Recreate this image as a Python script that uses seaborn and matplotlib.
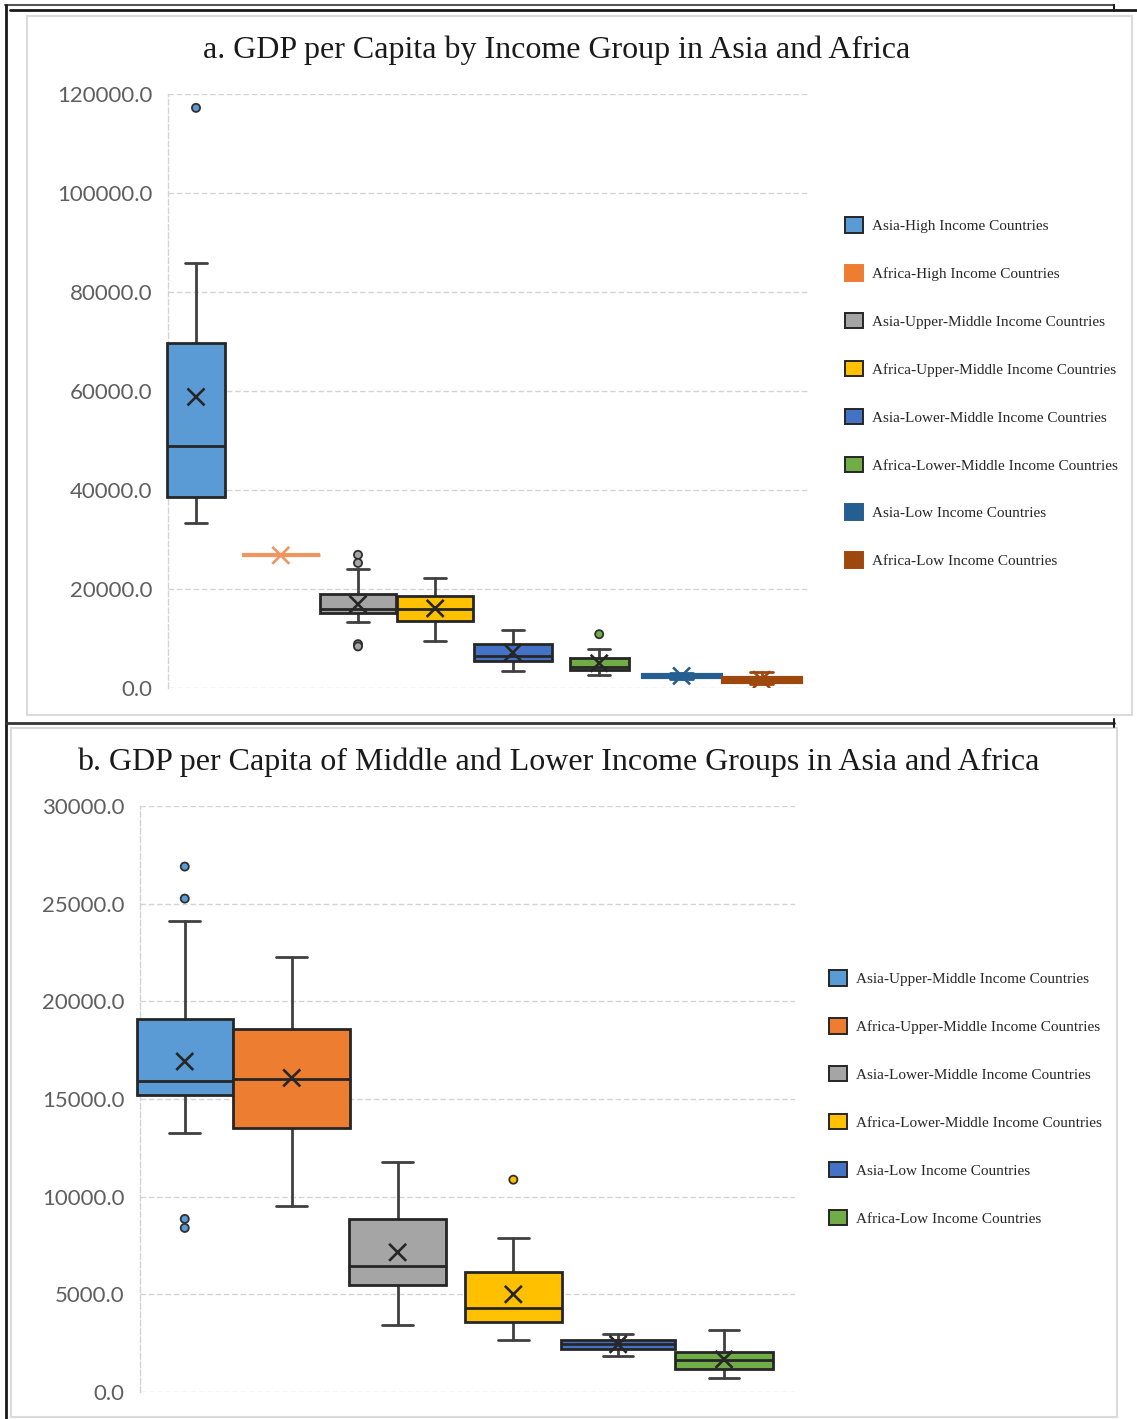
import numpy as np
import pandas as pd
import matplotlib
matplotlib.use("Agg")
import matplotlib.pyplot as plt
from matplotlib.patches import Patch, Rectangle
from matplotlib.lines import Line2D
from matplotlib.ticker import MultipleLocator, FuncFormatter
import seaborn as sns

# ---- data: GDP per capita summary per income group (USD) ----
groups = [
    "Asia-High Income Countries",
    "Africa-High Income Countries",
    "Asia-Upper-Middle Income Countries",
    "Africa-Upper-Middle Income Countries",
    "Asia-Lower-Middle Income Countries",
    "Africa-Lower-Middle Income Countries",
    "Asia-Low Income Countries",
    "Africa-Low Income Countries",
]
whisker_low = [33300, 26800, 13250, 9510, 3450, 2660, 1840, 720]
q1 = [38600, 26800, 15190, 13530, 5500, 3580, 2220, 1190]
median = [48900, 26800, 15900, 16010, 6440, 4300, 2440, 1640]
mean = [58800, 26800, 16920, 16080, 7150, 5000, 2440, 1670]
q3 = [69600, 26800, 19070, 18560, 8860, 6140, 2660, 2070]
whisker_high = [85900, 26800, 24090, 22260, 11790, 7880, 2970, 3170]

outlier_group = [
    "Asia-High Income Countries",
    "Asia-Upper-Middle Income Countries",
    "Asia-Upper-Middle Income Countries",
    "Asia-Upper-Middle Income Countries",
    "Asia-Upper-Middle Income Countries",
    "Africa-Lower-Middle Income Countries",
]
outlier_value = [117200, 26900, 25260, 8860, 8400, 10870]

# panel b shows the middle and lower groups relabelled one step down
labels_b = [
    "Asia-Upper-Middle Income Countries",
    "Africa-Upper-Middle Income Countries",
    "Asia-Lower-Middle Income Countries",
    "Africa-Lower-Middle Income Countries",
    "Asia-Low Income Countries",
    "Africa-Low Income Countries",
]

title_a = "a. GDP per Capita by Income Group in Asia and Africa"
title_b = "b. GDP per Capita of Middle and Lower Income Groups in Asia and Africa"

# ---- styling ----
sns.set_theme(style="white")
plt.rcParams["font.family"] = ["Lato", "DejaVu Sans"]

W, H = 1137, 1419
fig = plt.figure(figsize=(W / 100, H / 100), dpi=100)
fig.patch.set_facecolor("white")


def fx(px):
    return px / W


def fy(py):
    return 1 - py / H


EDGE = "#262626"
WHISK = "#404040"
GRID = "#D4D4D4"

colors_a = ["#5B9BD5", "#ED7D31", "#A5A5A5", "#FFC000",
            "#4472C4", "#70AD47", "#255E91", "#9E480E"]
line_a = ["#5B9BD5", "#EE9560", "#A5A5A5", "#FFC000",
          "#4472C4", "#70AD47", "#255E91", "#9E480E"]
flat_a = [False, True, False, False, False, False, True, True]
colors_b = ["#5B9BD5", "#ED7D31", "#A5A5A5", "#FFC000", "#4472C4", "#70AD47"]


def draw_panel(ax, idx, names, fills, lines, flat, centers, widths, ymax, step):
    stats = []
    for i, name in zip(idx, names):
        stats.append(dict(med=median[i], q1=q1[i], q3=q3[i],
                          whislo=whisker_low[i], whishi=whisker_high[i],
                          fliers=[], label=name))
    n = len(stats)
    art = ax.bxp(stats, positions=centers, widths=widths,
                 capwidths=[0.28] * n, patch_artist=True,
                 showfliers=False, manage_ticks=False)
    for k in range(n):
        fc = fills[k]
        ec = lines[k] if flat[k] else EDGE
        wc = lines[k] if flat[k] else WHISK
        box = art["boxes"][k]
        box.set_facecolor(fc)
        box.set_edgecolor(ec)
        box.set_linewidth(3.0 if flat[k] else 2.0)
        box.set_zorder(3)
        box.set_clip_on(False)
        for ln in art["whiskers"][2 * k:2 * k + 2] + art["caps"][2 * k:2 * k + 2]:
            ln.set_color(wc)
            ln.set_linewidth(2.0)
            ln.set_zorder(2)
        med = art["medians"][k]
        med.set_color(ec)
        med.set_linewidth(2.0)
        med.set_zorder(4)
        med.set_clip_on(False)

    # means drawn as crosses
    mean_df = pd.DataFrame({
        "group": names,
        "pos": centers,
        "mean": [mean[i] for i in idx],
    })
    mean_pal = {nm: (lines[k] if flat[k] else EDGE) for k, nm in enumerate(names)}
    sns.scatterplot(data=mean_df, x="pos", y="mean", hue="group",
                    palette=mean_pal, marker="x", s=150, linewidth=1.9,
                    legend=False, ax=ax, zorder=6)

    # outliers as small filled circles
    rows = []
    for g, v in zip(outlier_group, outlier_value):
        gi = groups.index(g)
        if gi in idx:
            k = idx.index(gi)
            rows.append({"group": names[k], "pos": centers[k], "value": v})
    if rows:
        out_df = pd.DataFrame(rows)
        out_pal = {nm: fills[k] for k, nm in enumerate(names)}
        sns.scatterplot(data=out_df, x="pos", y="value", hue="group",
                        palette=out_pal, s=34, edgecolor="#303030",
                        linewidth=1.3, legend=False, ax=ax, zorder=6)

    ax.set_xlim(0, len(idx))
    ax.set_ylim(0, ymax)
    ax.yaxis.set_major_locator(MultipleLocator(step))
    ax.yaxis.set_major_formatter(FuncFormatter(lambda v, p: f"{v:.1f}"))
    ax.set_xticks([])
    ax.set_xlabel("")
    ax.set_ylabel("")
    ax.grid(axis="y", color=GRID, lw=1.0, ls=(0, (4, 2)))
    ax.set_axisbelow(True)
    ax.tick_params(axis="y", length=0, pad=11, labelsize=16, labelcolor="#5F5F5F")
    for s in ["top", "right", "bottom"]:
        ax.spines[s].set_visible(False)
    ax.spines["left"].set_color(GRID)
    ax.spines["left"].set_linewidth(1.0)
    ax.spines["left"].set_linestyle((0, (4, 2)))
    ax.set_facecolor("none")


# ---- panel a ----
ax_a = fig.add_axes([fx(168), fy(688), 640 / W, 594 / H])
centers_a = [0.35, 1.41, 2.375, 3.34, 4.31, 5.39, 6.42, 7.42]
widths_a = [0.72, 0.975, 0.96, 0.95, 0.97, 0.74, 0.975, 0.975]
draw_panel(ax_a, list(range(8)), groups, colors_a, line_a, flat_a,
           centers_a, widths_a, 120000, 20000)

# ---- panel b ----
ax_b = fig.add_axes([fx(140), fy(1392), 655 / W, 586 / H])
centers_b = [0.41, 1.39, 2.36, 3.42, 4.38, 5.35]
widths_b = [0.88, 1.07, 0.89, 0.89, 1.05, 0.89]
draw_panel(ax_b, list(range(2, 8)), labels_b, colors_b, colors_b,
           [False] * 6, centers_b, widths_b, 30000, 5000)

# ---- titles ----
serif = ["Liberation Serif", "DejaVu Serif"]
fig.text(fx(557), fy(50), title_a, ha="center", va="center",
         fontsize=23, family=serif, color="#1a1a1a")
fig.text(fx(558), fy(762), title_b, ha="center", va="center",
         fontsize=23, family=serif, color="#1a1a1a")

# ---- legends ----
leg_kw = dict(loc="upper left", frameon=False, borderpad=0, borderaxespad=0,
              handlelength=1.2, handleheight=1.2, handletextpad=0.55,
              labelspacing=2.09, prop={"family": serif, "size": 11},
              bbox_transform=fig.transFigure)
bordered_a = [True, False, True, True, True, True, False, False]
handles_a = [Patch(facecolor=c, edgecolor=(EDGE if b else c), lw=1.4, label=g)
             for c, b, g in zip(colors_a, bordered_a, groups)]
fig.legend(handles=handles_a, bbox_to_anchor=(fx(845), fy(217)), **leg_kw)
handles_b = [Patch(facecolor=c, edgecolor=EDGE, lw=1.4, label=g)
             for c, g in zip(colors_b, labels_b)]
fig.legend(handles=handles_b, bbox_to_anchor=(fx(829), fy(970)), **leg_kw)

# ---- chart-area frames and page rules ----
fig.add_artist(Rectangle((fx(27), fy(715)), 1105 / W, 699 / H, fill=False,
                         edgecolor="#DADADA", lw=1.5, transform=fig.transFigure))
fig.add_artist(Rectangle((fx(11), fy(1417)), 1106 / W, 689 / H, fill=False,
                         edgecolor="#DADADA", lw=1.5, transform=fig.transFigure))


def rule(x0, y0, x1, y1, lw=2.0, color="#1a1a1a"):
    fig.add_artist(Line2D([fx(x0), fx(x1)], [fy(y0), fy(y1)], color=color,
                          lw=lw, transform=fig.transFigure))


rule(5, 5, 1114, 5, lw=1.5, color="#555555")
rule(1114, 5, 1114, 9, lw=1.5)
rule(10, 10, 1137, 10, lw=2.0)
rule(6, 5, 6, 1419, lw=2.0)
rule(6, 723, 1114, 723, lw=2.0, color="#333333")
rule(1114, 719, 1114, 727, lw=1.5)

fig.savefig("out.png", dpi=100, facecolor="white")
